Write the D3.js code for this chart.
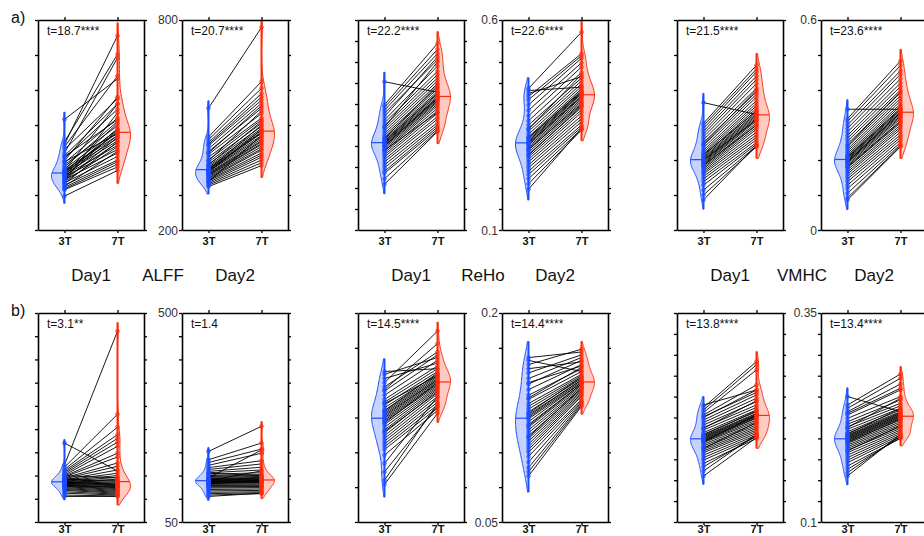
<!DOCTYPE html>
<html>
<head>
<meta charset="utf-8">
<script src="https://cdn.jsdelivr.net/npm/d3@7"></script>
<style>
body { margin: 0; background: #fff; }
svg { font-family: Arial, "Liberation Sans", sans-serif; }
</style>
</head>
<body>
<svg width="924" height="536"></svg>
<script>
// ---- values (one entry per subject, 3T and 7T paired by index) ----
// row a
var alffA1_3T = [516, 297, 452, 445, 438, 430, 420, 412, 405, 398, 392, 386, 380, 375, 371, 368, 366, 364, 362, 360, 358, 356, 354, 352, 350, 347, 344, 341, 338, 335, 332, 328, 325, 322, 318, 315, 340, 370, 395, 410];
var alffA1_7T = [632, 370, 702, 755, 640, 575, 692, 560, 545, 580, 520, 498, 510, 486, 470, 478, 462, 505, 480, 455, 490, 442, 470, 430, 485, 450, 420, 465, 438, 410, 452, 400, 425, 395, 388, 380, 535, 560, 475, 515];
var alffA2_3T = [548, 466, 458, 450, 441, 432, 424, 416, 408, 400, 394, 388, 383, 379, 376, 373, 371, 369, 367, 365, 363, 361, 359, 357, 355, 352, 349, 346, 343, 340, 336, 332, 328, 324, 338, 372, 386, 398, 420, 445];
var alffA2_7T = [779, 624, 605, 590, 571, 562, 548, 533, 520, 515, 505, 496, 490, 485, 480, 478, 476, 470, 465, 487, 460, 455, 452, 447, 444, 438, 432, 428, 420, 414, 408, 400, 392, 384, 470, 500, 510, 540, 555, 580];
var rehoA1_3T = [0.453, 0.398, 0.392, 0.385, 0.378, 0.370, 0.362, 0.355, 0.348, 0.342, 0.336, 0.330, 0.325, 0.320, 0.316, 0.313, 0.311, 0.309, 0.307, 0.305, 0.302, 0.299, 0.296, 0.292, 0.288, 0.284, 0.279, 0.274, 0.268, 0.262, 0.255, 0.248, 0.240, 0.235, 0.222, 0.209, 0.318, 0.300, 0.290, 0.345];
var rehoA1_7T = [0.428, 0.544, 0.530, 0.520, 0.505, 0.512, 0.490, 0.478, 0.470, 0.462, 0.455, 0.448, 0.440, 0.436, 0.430, 0.426, 0.424, 0.420, 0.416, 0.412, 0.410, 0.407, 0.404, 0.400, 0.396, 0.390, 0.384, 0.378, 0.370, 0.364, 0.356, 0.350, 0.345, 0.340, 0.336, 0.334, 0.445, 0.415, 0.380, 0.500];
var rehoA2_3T = [0.437, 0.432, 0.425, 0.418, 0.410, 0.398, 0.385, 0.372, 0.360, 0.350, 0.342, 0.335, 0.328, 0.322, 0.318, 0.315, 0.312, 0.309, 0.306, 0.302, 0.298, 0.294, 0.290, 0.285, 0.280, 0.274, 0.268, 0.262, 0.255, 0.248, 0.240, 0.232, 0.222, 0.210, 0.197, 0.320, 0.305, 0.292, 0.340, 0.278];
var rehoA2_7T = [0.571, 0.440, 0.465, 0.520, 0.515, 0.509, 0.498, 0.488, 0.475, 0.462, 0.455, 0.448, 0.442, 0.436, 0.432, 0.428, 0.426, 0.424, 0.420, 0.416, 0.412, 0.408, 0.404, 0.398, 0.392, 0.386, 0.380, 0.372, 0.365, 0.358, 0.350, 0.345, 0.340, 0.338, 0.342, 0.430, 0.418, 0.400, 0.470, 0.395];
var vmhcA1_3T = [0.364, 0.305, 0.298, 0.290, 0.282, 0.274, 0.266, 0.258, 0.250, 0.242, 0.235, 0.228, 0.222, 0.217, 0.212, 0.208, 0.205, 0.202, 0.199, 0.196, 0.193, 0.190, 0.187, 0.183, 0.179, 0.175, 0.170, 0.165, 0.160, 0.153, 0.146, 0.138, 0.128, 0.114, 0.100, 0.086, 0.215, 0.200, 0.185, 0.245];
var vmhcA1_7T = [0.330, 0.471, 0.460, 0.452, 0.440, 0.430, 0.418, 0.405, 0.395, 0.388, 0.380, 0.370, 0.362, 0.355, 0.348, 0.342, 0.336, 0.332, 0.328, 0.324, 0.320, 0.316, 0.312, 0.306, 0.300, 0.294, 0.288, 0.280, 0.272, 0.265, 0.258, 0.250, 0.245, 0.240, 0.238, 0.242, 0.340, 0.315, 0.300, 0.400];
var vmhcA2_3T = [0.345, 0.318, 0.310, 0.300, 0.290, 0.280, 0.270, 0.262, 0.254, 0.246, 0.238, 0.231, 0.225, 0.219, 0.214, 0.210, 0.206, 0.203, 0.200, 0.197, 0.194, 0.191, 0.187, 0.183, 0.178, 0.172, 0.166, 0.160, 0.153, 0.146, 0.138, 0.128, 0.118, 0.105, 0.092, 0.086, 0.208, 0.195, 0.180, 0.240];
var vmhcA2_7T = [0.345, 0.483, 0.470, 0.455, 0.445, 0.432, 0.420, 0.410, 0.400, 0.392, 0.384, 0.376, 0.368, 0.360, 0.354, 0.348, 0.342, 0.338, 0.334, 0.330, 0.326, 0.322, 0.318, 0.312, 0.306, 0.300, 0.294, 0.288, 0.280, 0.272, 0.265, 0.258, 0.250, 0.244, 0.240, 0.238, 0.345, 0.335, 0.310, 0.395];
// row b
var alffB1_3T = [220, 173, 168, 163, 160, 157, 154, 151, 149, 147, 145, 143, 141, 140, 139, 138, 137, 136, 135, 134, 133, 132, 131, 130, 129, 128, 127, 126, 124, 122, 120, 118, 115, 112, 108, 105, 150, 142, 136, 146];
var alffB1_7T = [160, 461, 282, 254, 238, 230, 222, 213, 198, 190, 177, 170, 162, 155, 150, 146, 142, 139, 136, 134, 132, 130, 128, 126, 125, 124, 122, 120, 118, 116, 114, 112, 110, 108, 106, 105, 145, 138, 131, 128];
var alffB2_3T = [202, 184, 178, 172, 167, 163, 159, 156, 153, 150, 148, 146, 144, 143, 142, 141, 140, 139, 138, 137, 136, 135, 134, 133, 131, 129, 127, 125, 123, 120, 117, 114, 111, 108, 105, 145, 139, 132, 155, 128];
var alffB2_7T = [256, 220, 207, 198, 182, 175, 168, 162, 156, 152, 150, 148, 146, 144, 143, 142, 141, 140, 139, 138, 137, 136, 135, 134, 132, 130, 128, 126, 124, 121, 118, 115, 113, 111, 112, 205, 160, 140, 150, 127];
var rehoB1_3T = [0.158, 0.156, 0.153, 0.150, 0.147, 0.144, 0.141, 0.138, 0.136, 0.134, 0.132, 0.130, 0.129, 0.128, 0.127, 0.126, 0.125, 0.124, 0.123, 0.122, 0.120, 0.118, 0.116, 0.114, 0.112, 0.110, 0.108, 0.106, 0.104, 0.102, 0.098, 0.092, 0.086, 0.080, 0.077, 0.130, 0.121, 0.145, 0.115, 0.135];
var rehoB1_7T = [0.160, 0.168, 0.164, 0.187, 0.172, 0.170, 0.166, 0.162, 0.160, 0.158, 0.156, 0.155, 0.154, 0.153, 0.152, 0.152, 0.151, 0.150, 0.149, 0.148, 0.147, 0.146, 0.145, 0.144, 0.142, 0.140, 0.138, 0.136, 0.134, 0.132, 0.130, 0.140, 0.133, 0.135, 0.128, 0.157, 0.150, 0.178, 0.143, 0.155];
var rehoB2_3T = [0.168, 0.166, 0.163, 0.160, 0.157, 0.153, 0.149, 0.145, 0.141, 0.138, 0.135, 0.133, 0.131, 0.129, 0.127, 0.126, 0.125, 0.124, 0.122, 0.120, 0.118, 0.116, 0.114, 0.112, 0.110, 0.108, 0.106, 0.104, 0.102, 0.100, 0.097, 0.093, 0.089, 0.086, 0.083, 0.128, 0.119, 0.139, 0.111, 0.150];
var rehoB2_7T = [0.172, 0.158, 0.174, 0.165, 0.170, 0.168, 0.166, 0.163, 0.160, 0.158, 0.156, 0.155, 0.154, 0.153, 0.152, 0.152, 0.151, 0.150, 0.150, 0.149, 0.148, 0.147, 0.146, 0.145, 0.144, 0.143, 0.142, 0.141, 0.140, 0.138, 0.137, 0.136, 0.135, 0.134, 0.133, 0.154, 0.149, 0.161, 0.146, 0.162];
var vmhcB1_3T = [0.240, 0.237, 0.234, 0.231, 0.228, 0.225, 0.222, 0.219, 0.216, 0.213, 0.210, 0.207, 0.205, 0.203, 0.202, 0.201, 0.200, 0.199, 0.198, 0.197, 0.196, 0.195, 0.193, 0.191, 0.189, 0.187, 0.185, 0.183, 0.180, 0.177, 0.174, 0.170, 0.166, 0.161, 0.155, 0.204, 0.196, 0.212, 0.188, 0.226];
var vmhcB1_7T = [0.258, 0.292, 0.288, 0.282, 0.264, 0.258, 0.252, 0.248, 0.244, 0.240, 0.237, 0.234, 0.232, 0.230, 0.229, 0.228, 0.227, 0.226, 0.225, 0.224, 0.222, 0.220, 0.218, 0.216, 0.214, 0.212, 0.210, 0.208, 0.206, 0.204, 0.202, 0.200, 0.203, 0.205, 0.201, 0.233, 0.228, 0.245, 0.219, 0.255];
var vmhcB2_3T = [0.250, 0.240, 0.236, 0.232, 0.228, 0.224, 0.220, 0.217, 0.214, 0.211, 0.208, 0.206, 0.204, 0.203, 0.202, 0.201, 0.200, 0.199, 0.198, 0.197, 0.196, 0.194, 0.192, 0.190, 0.188, 0.186, 0.183, 0.180, 0.177, 0.174, 0.171, 0.167, 0.163, 0.159, 0.155, 0.205, 0.195, 0.213, 0.185, 0.230];
var vmhcB2_7T = [0.232, 0.277, 0.272, 0.265, 0.258, 0.250, 0.246, 0.242, 0.239, 0.236, 0.234, 0.232, 0.231, 0.230, 0.229, 0.228, 0.227, 0.226, 0.225, 0.224, 0.222, 0.220, 0.218, 0.216, 0.214, 0.212, 0.210, 0.208, 0.206, 0.204, 0.202, 0.200, 0.201, 0.203, 0.205, 0.236, 0.223, 0.248, 0.215, 0.260];

var groups = ["3T", "7T"];
var metrics = ["ALFF", "ReHo", "VMHC"];
var days = ["Day1", "Day2"];
var tStatsA = ["t=18.7****", "t=20.7****", "t=22.2****", "t=22.6****", "t=21.5****", "t=23.6****"];
var tStatsB = ["t=3.1**", "t=1.4", "t=14.5****", "t=14.4****", "t=13.8****", "t=13.4****"];
var domainsA = [[200, 800], [0.1, 0.6], [0, 0.6]];
var domainsB = [[50, 500], [0.05, 0.2], [0.1, 0.35]];
var yLabelsA = [["200", "800"], ["0.1", "0.6"], ["0", "0.6"]];
var yLabelsB = [["50", "500"], ["0.05", "0.2"], ["0.1", "0.35"]];
var tickStepsA = [100, 0.05, 0.1];
var tickStepsB = [50, 0.025, 0.025];

var colors = ["#1a4dff", "#ff2a0a"];

var svg = d3.select("svg");
var panelW = 106;
var groupLeft = [38, 358, 677];
var dayOffset = 144;

var rows = [
    { top: 20, bottom: 230, tag: "a)", tagY: 23, t: tStatsA, domains: domainsA, labels: yLabelsA, steps: tickStepsA, subtitles: true, pad: 4,
      data: [[alffA1_3T, alffA1_7T], [alffA2_3T, alffA2_7T], [rehoA1_3T, rehoA1_7T], [rehoA2_3T, rehoA2_7T], [vmhcA1_3T, vmhcA1_7T], [vmhcA2_3T, vmhcA2_7T]] },
    { top: 313, bottom: 522, tag: "b)", tagY: 316, t: tStatsB, domains: domainsB, labels: yLabelsB, steps: tickStepsB, subtitles: false, pad: 0,
      data: [[alffB1_3T, alffB1_7T], [alffB2_3T, alffB2_7T], [rehoB1_3T, rehoB1_7T], [rehoB2_3T, rehoB2_7T], [vmhcB1_3T, vmhcB1_7T], [vmhcB2_3T, vmhcB2_7T]] }
];

function gauss(u) { return Math.exp(-0.5 * u * u) / Math.sqrt(2 * Math.PI); }

function density(vals, h, v) {
    return d3.mean(vals, function (d) { return gauss((v - d) / h); }) / h;
}

function drawPanel(x0, row, m, d) {
    var domain = row.domains[m];
    var pair = row.data[m * 2 + d];
    var x = d3.scalePoint().domain(groups).range([x0, x0 + panelW]).padding(0.5);
    var y = d3.scaleLinear().domain(domain).range([row.bottom, row.top]);
    var step = row.steps[m];
    var ticks = d3.range(domain[0], domain[1] + step / 2, step);
    var g = svg.append("g");

    var shapes = pair.map(function (vals, k) {
        var sorted = vals.slice().sort(d3.ascending);
        var iqr = d3.quantile(sorted, 0.75) - d3.quantile(sorted, 0.25);
        var h = 0.9 * Math.min(d3.deviation(vals), iqr / 1.34) * Math.pow(vals.length, -0.2);
        var lo = Math.max(domain[0], d3.min(vals) - 1.2 * h);
        var hi = Math.min(domain[1], d3.max(vals) + 1.2 * h);
        var grid = d3.range(0, 121).map(function (i) { return lo + (hi - lo) * i / 120; });
        var dens = grid.map(function (v) { return [v, density(vals, h, v)]; });
        var w = d3.scaleLinear().domain([0, d3.max(dens, function (e) { return e[1]; })]).range([0, 13]);
        var med = d3.median(vals);
        return { vals: vals, k: k, lo: lo, hi: hi, dens: dens, w: w, med: med, medW: w(density(vals, h, med)) };
    });

    // half violins
    shapes.forEach(function (s) {
        var cx = x(groups[s.k]), side = s.k === 0 ? -1 : 1;
        var area = d3.area()
            .y(function (e) { return y(e[0]); })
            .x0(cx)
            .x1(function (e) { return cx + side * s.w(e[1]); })
            .curve(d3.curveBasis);
        g.append("path").datum(s.dens).attr("d", area)
            .style("fill", colors[s.k]).style("fill-opacity", 0.25)
            .style("stroke", colors[s.k]).style("stroke-width", 1);
        g.append("line")
            .attr("x1", cx).attr("x2", cx + side * s.medW)
            .attr("y1", y(s.med)).attr("y2", y(s.med))
            .style("stroke", colors[s.k]).style("stroke-width", 1.2);
    });

    // paired subject lines
    g.selectAll("line.pair").data(d3.range(pair[0].length)).enter().append("line")
        .attr("class", "pair")
        .attr("x1", x("3T")).attr("y1", function (i) { return y(pair[0][i]); })
        .attr("x2", x("7T")).attr("y2", function (i) { return y(pair[1][i]); })
        .style("stroke", "black").style("stroke-width", 0.9);

    // range lines and points
    shapes.forEach(function (s) {
        var cx = x(groups[s.k]);
        g.append("line")
            .attr("x1", cx).attr("x2", cx).attr("y1", y(s.lo)).attr("y2", y(s.hi))
            .style("stroke", colors[s.k]).style("stroke-width", 2);
        g.selectAll("circle.p" + s.k).data(s.vals).enter().append("circle")
            .attr("class", "p" + s.k)
            .attr("cx", cx).attr("cy", function (v) { return y(v); }).attr("r", 1.8)
            .style("fill", colors[s.k]).style("fill-opacity", 0.3)
            .style("stroke", colors[s.k]).style("stroke-width", 0.8);
    });

    // box axes
    var xb = g.append("g").attr("transform", "translate(0," + row.bottom + ")")
        .call(d3.axisBottom(x).tickSize(3).tickSizeOuter(0).tickPadding(row.pad));
    xb.selectAll("text").attr("font-family", "Arial, 'Liberation Sans', sans-serif")
        .style("font-size", "11px").style("font-weight", "bold").style("fill", "#111");
    var xt = g.append("g").attr("transform", "translate(0," + row.top + ")")
        .call(d3.axisTop(x).tickSize(3).tickSizeOuter(0).tickFormat(""));
    var yl = g.append("g").attr("transform", "translate(" + x0 + ",0)")
        .call(d3.axisLeft(y).tickValues(ticks).tickSize(3).tickSizeOuter(0).tickFormat(""));
    var yr = g.append("g").attr("transform", "translate(" + (x0 + panelW) + ",0)")
        .call(d3.axisRight(y).tickValues(ticks).tickSize(3).tickSizeOuter(0).tickFormat(""));
    [xb, xt, yl, yr].forEach(function (a) {
        a.select(".domain").style("stroke", "black").style("stroke-width", 1.6);
        a.selectAll(".tick line").style("stroke", "black").style("stroke-width", 1.3);
    });

    // t statistic
    g.append("text").attr("x", x0 + 9).attr("y", row.top + 15)
        .style("font-size", "12px").style("fill", "#111").text(row.t[m * 2 + d]);

    // value range on the Day2 panel
    if (d === 1) {
        g.append("text").attr("x", x0 - 4).attr("y", y(domain[1])).attr("dy", "0.35em")
            .attr("text-anchor", "end").style("font-size", "12px").style("fill", "#333")
            .text(row.labels[m][1]);
        g.append("text").attr("x", x0 - 4).attr("y", y(domain[0]) + 1).attr("dy", "0.35em")
            .attr("text-anchor", "end").style("font-size", "12px").style("fill", "#333")
            .text(row.labels[m][0]);
    }
}

rows.forEach(function (row) {
    svg.append("text").attr("x", 11).attr("y", row.tagY)
        .style("font-size", "16px").style("fill", "#111").text(row.tag);
    metrics.forEach(function (metric, m) {
        days.forEach(function (day, d) {
            drawPanel(groupLeft[m] + d * dayOffset, row, m, d);
        });
        if (row.subtitles) {
            var sub = [
                [groupLeft[m] + panelW / 2, days[0]],
                [groupLeft[m] + (panelW + dayOffset) / 2, metric],
                [groupLeft[m] + dayOffset + panelW / 2, days[1]]
            ];
            svg.selectAll(null).data(sub).enter().append("text")
                .attr("x", function (s) { return s[0]; }).attr("y", 281)
                .attr("text-anchor", "middle")
                .style("font-size", "17px").style("fill", "#111")
                .text(function (s) { return s[1]; });
        }
    });
});
</script>
</body>
</html>
